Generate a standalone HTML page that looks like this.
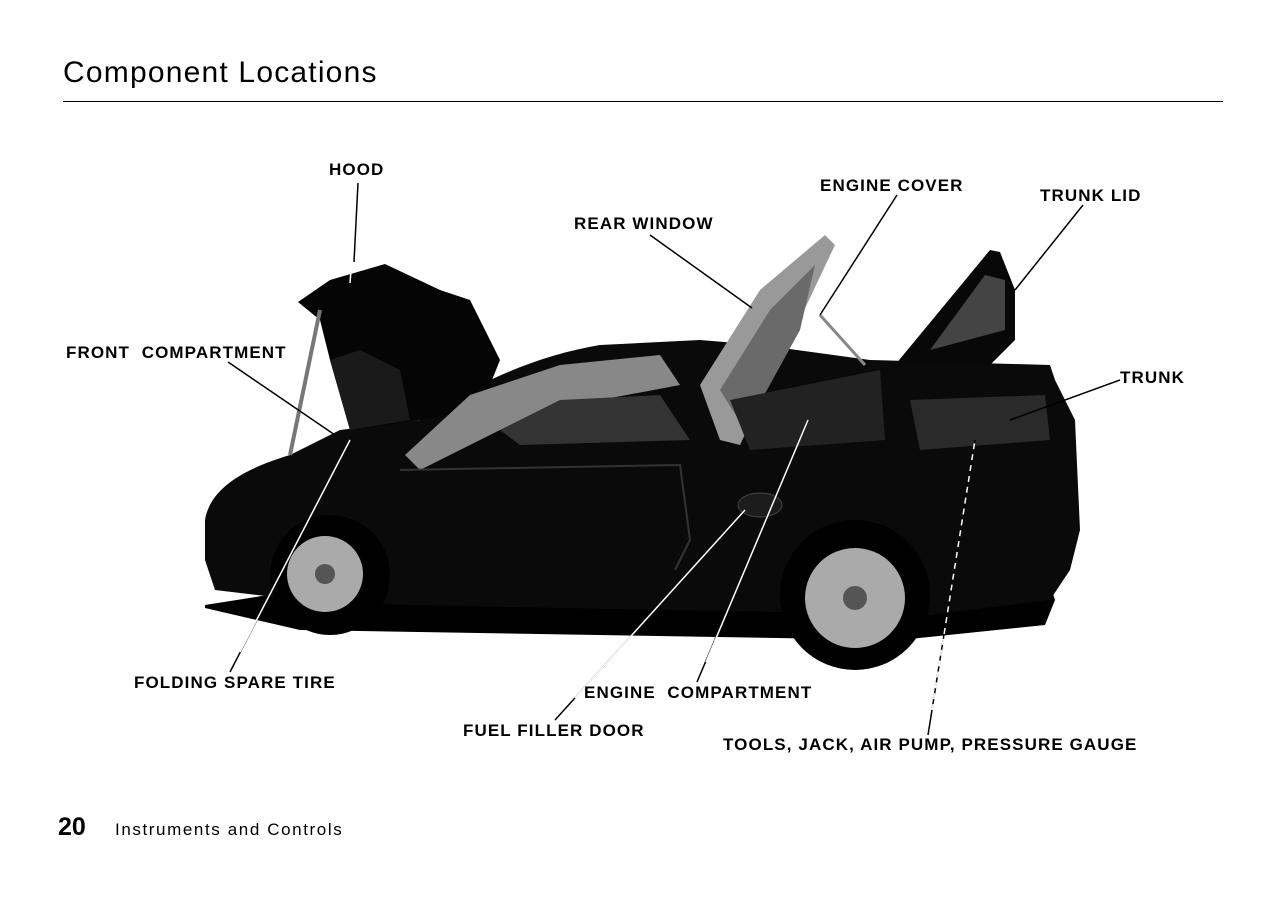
<!DOCTYPE html>
<html><head><meta charset="utf-8"><style>
html,body{margin:0;padding:0;background:#fff;}
body{width:1282px;height:904px;position:relative;overflow:hidden;font-family:"Liberation Sans",Arial,sans-serif;}
.t{position:absolute;font-weight:bold;font-size:17px;color:#000;white-space:nowrap;letter-spacing:1.1px}
</style></head><body>
<div style="position:absolute;left:63px;top:56px;font-size:30px;letter-spacing:1.2px;color:#000">Component Locations</div>
<div style="position:absolute;left:63px;top:101px;width:1160px;height:1px;background:#000"></div>

<svg width="1282" height="904" style="position:absolute;left:0;top:0">
 <polygon points="205,605 300,590 1050,585 1055,600 1045,625 900,640 300,630 205,608" fill="#000"/>
 <path d="M205,520 C210,490 240,470 290,455 L340,430 L420,420 C480,380 540,355 600,345 L700,340 L760,345 L870,360 L1050,365 L1055,380 L1075,420 L1080,530 L1070,570 L1050,600 L930,615 L780,612 L400,605 L300,600 L215,590 L205,560 Z" fill="#0a0a0a"/>
 <polygon points="298,302 330,280 385,264 440,290 470,300 500,360 480,410 420,420 350,430 330,360 320,320" fill="#050505"/>
 <polygon points="330,360 360,350 400,370 410,420 350,430" fill="#1a1a1a"/>
 <polygon points="405,455 470,395 560,365 660,355 680,385 600,400 500,430 420,470" fill="#888"/>
 <polygon points="500,430 560,400 660,395 690,440 520,445" fill="#333"/>
 <polygon points="700,385 760,290 825,235 835,245 790,340 740,445 720,440" fill="#999"/>
 <polygon points="720,390 770,310 815,265 800,330 745,430" fill="#6a6a6a"/>
 <polygon points="730,400 880,370 885,440 750,450" fill="#222"/>
 <polygon points="895,365 990,250 1000,252 1015,290 1015,340 990,365" fill="#080808"/>
 <polygon points="930,350 985,275 1005,280 1005,330" fill="#444"/>
 <polygon points="910,400 1045,395 1050,440 920,450" fill="#2a2a2a"/>
 <line x1="290" y1="455" x2="320" y2="310" stroke="#777" stroke-width="4"/>
 <line x1="820" y1="315" x2="865" y2="365" stroke="#888" stroke-width="3"/>
 <path d="M400,470 L680,465 L690,540 L675,570" stroke="#333" stroke-width="2" fill="none"/>
 <ellipse cx="760" cy="505" rx="22" ry="12" fill="#1c1c1c" stroke="#444"/>
 <circle cx="330" cy="575" r="60" fill="#000"/>
 <circle cx="325" cy="574" r="38" fill="#aaa"/>
 <circle cx="325" cy="574" r="10" fill="#555"/>
 <circle cx="855" cy="595" r="75" fill="#000"/>
 <circle cx="855" cy="598" r="50" fill="#aaa"/>
 <circle cx="855" cy="598" r="12" fill="#555"/>
 <g stroke="#000" stroke-width="1.5">
  <line x1="358" y1="183" x2="350" y2="283" stroke="#fff" stroke-width="1.5"/>
  <line x1="358" y1="183" x2="354" y2="262"/>
  <line x1="228" y1="362" x2="335" y2="435"/>
  <line x1="230" y1="672" x2="350" y2="440"/>
  <line x1="650" y1="235" x2="752" y2="308"/>
  <line x1="897" y1="195" x2="820" y2="315"/>
  <line x1="1083" y1="205" x2="1015" y2="290"/>
  <line x1="1120" y1="380" x2="1010" y2="420"/>
  <line x1="697" y1="682" x2="808" y2="420"/>
  <line x1="555" y1="720" x2="745" y2="510"/>
  <line x1="928" y1="735" x2="975" y2="440"/>
 </g>
 <g stroke="#fff" stroke-width="1.5">
  <line x1="240" y1="652" x2="350" y2="440"/>
  <line x1="706" y1="662" x2="808" y2="420"/>
  <line x1="575" y1="698" x2="745" y2="510"/>
  <line x1="932" y1="710" x2="975" y2="440" stroke-dasharray="6,5"/>
 </g>
</svg>

<div class="t" style="left:329px;top:160px">HOOD</div>
<div class="t" style="left:820px;top:176px">ENGINE COVER</div>
<div class="t" style="left:1040px;top:186px">TRUNK LID</div>
<div class="t" style="left:574px;top:214px">REAR WINDOW</div>
<div class="t" style="left:66px;top:343px">FRONT&nbsp; COMPARTMENT</div>
<div class="t" style="left:1120px;top:368px">TRUNK</div>
<div class="t" style="left:134px;top:673px">FOLDING SPARE TIRE</div>
<div class="t" style="left:584px;top:683px">ENGINE&nbsp; COMPARTMENT</div>
<div class="t" style="left:463px;top:721px">FUEL FILLER DOOR</div>
<div class="t" style="left:723px;top:735px">TOOLS, JACK, AIR PUMP, PRESSURE GAUGE</div>

<div style="position:absolute;left:58px;top:813px;font-size:25px;font-weight:bold">20</div>
<div style="position:absolute;left:115px;top:820px;font-size:17px;letter-spacing:1.6px">Instruments and Controls</div>
</body></html>
